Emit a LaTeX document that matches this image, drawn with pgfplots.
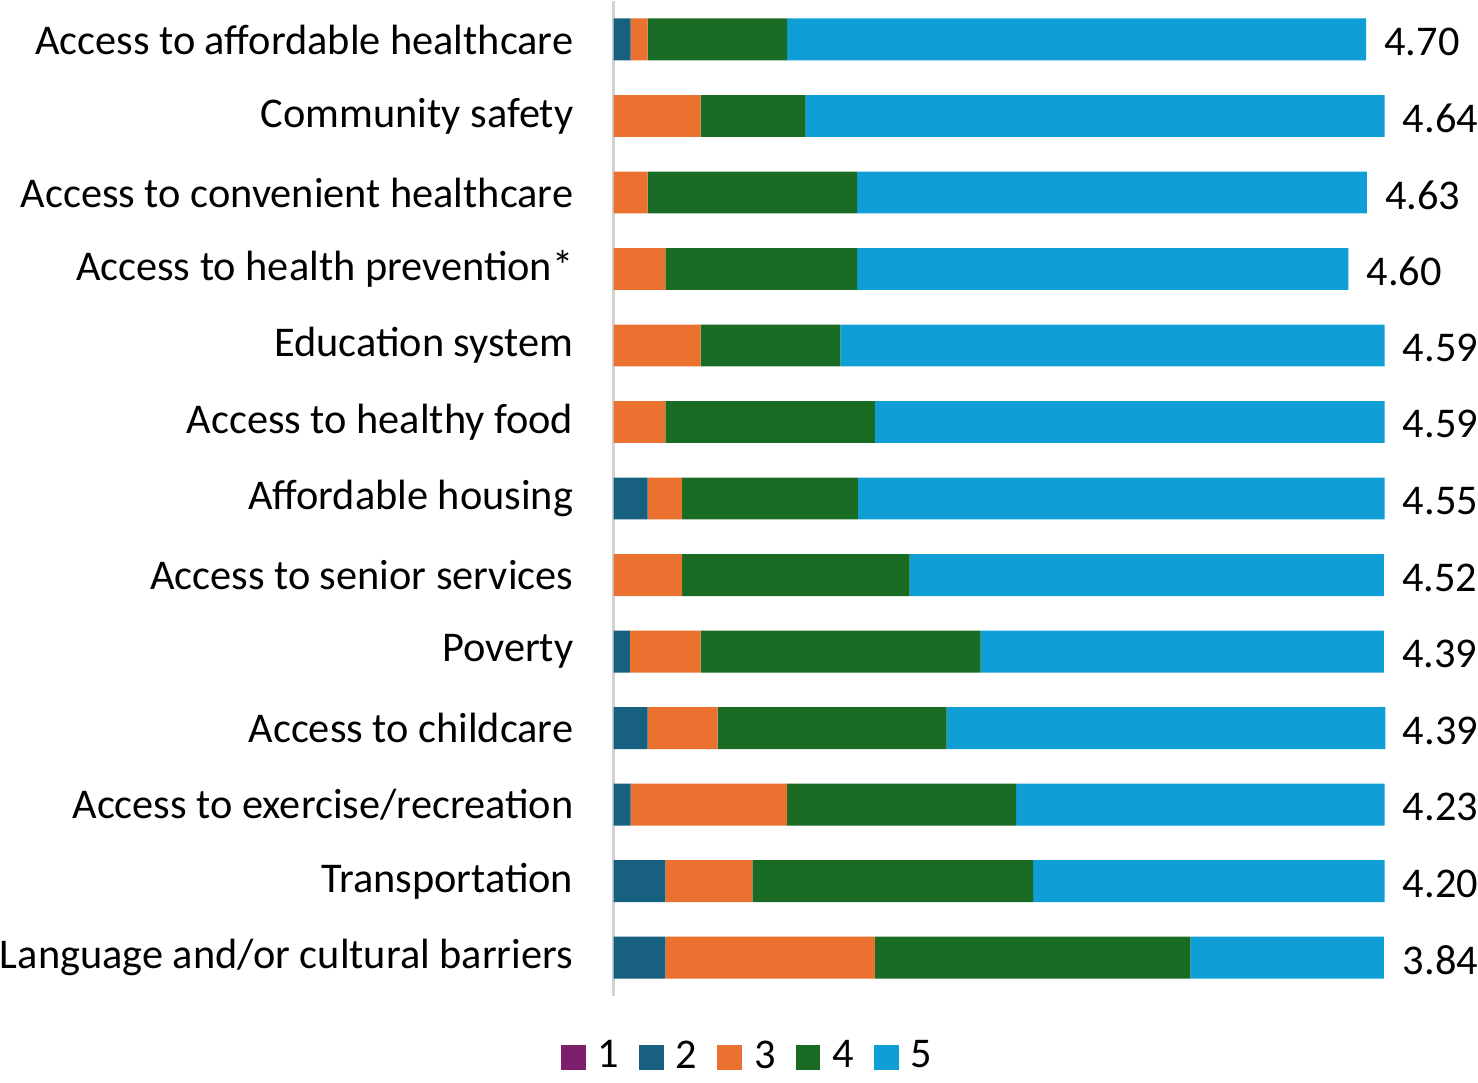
\documentclass[border=0pt]{standalone}
\usepackage{pgfplots}
\pgfplotsset{compat=1.18}
\usepackage{fontspec}
\setmainfont{Carlito}
\definecolor{c1}{HTML}{7B1F6B}
\definecolor{c2}{HTML}{17607F}
\definecolor{c3}{HTML}{EB7131}
\definecolor{c4}{HTML}{1A6B23}
\definecolor{c5}{HTML}{0F9ED5}
\newcommand{\bigfont}{\fontsize{21.2pt}{25pt}\selectfont}
\pgfplotsset{base/.style={
 scale only axis, width=386pt, height=498pt,
 xmin=0, xmax=100, ymin=0.5, ymax=13.5, y dir=reverse, clip=false}}
\begin{document}
\bigfont
\begin{tikzpicture}
\begin{axis}[base,
 xbar stacked, bar width=21pt,
 axis x line=none, axis y line*=left,
 y axis line style={draw=gray!35, line width=1.2pt},
 ytick={1,...,13},
 yticklabels={Access to affordable healthcare, Community safety, Access to convenient healthcare, Access to health prevention*, Education system, Access to healthy food, Affordable housing, Access to senior services, Poverty, Access to childcare, Access to exercise/recreation, Transportation, Language and/or cultural barriers},
 ytick style={draw=none}, major tick length=0pt,
 yticklabel style={font=\bigfont, inner sep=0pt, xshift=-20pt},
 legend columns=5,
 legend style={at={(0.175,-0.062)}, anchor=center, draw=none, font=\bigfont,
   /tikz/every odd column/.append style={column sep=4pt},
   /tikz/every even column/.append style={column sep=8pt}},
 legend image code/.code={\fill[#1] (0pt,-6.2pt) rectangle (12.4pt,6.2pt);},
]
\addplot[fill=c1, draw=none] coordinates {(0,1) (0,2) (0,3) (0,4) (0,5) (0,6) (0,7) (0,8) (0,9) (0,10) (0,11) (0,12) (0,13)};
\addplot[fill=c2, draw=none] coordinates {(2.2,1) (0,2) (0,3) (0,4) (0,5) (0,6) (4.4,7) (0,8) (2.1,9) (4.4,10) (2.2,11) (6.7,12) (6.7,13)};
\addplot[fill=c3, draw=none] coordinates {(2.2,1) (11.3,2) (4.4,3) (6.7,4) (11.3,5) (6.7,6) (4.5,7) (8.9,8) (9.2,9) (9.1,10) (20.3,11) (11.3,12) (27.2,13)};
\addplot[fill=c4, draw=none] coordinates {(18.1,1) (13.6,2) (27.2,3) (24.9,4) (18.1,5) (27.2,6) (22.8,7) (29.5,8) (36.3,9) (29.7,10) (29.7,11) (36.4,12) (40.9,13)};
\addplot[fill=c5, draw=none] coordinates {(75.1,1) (75.1,2) (66.1,3) (63.7,4) (70.6,5) (66.1,6) (68.3,7) (61.5,8) (52.3,9) (56.9,10) (47.8,11) (45.6,12) (25.1,13)};
\legend{1,2,3,4,5}
\end{axis}
\begin{axis}[base, axis lines=none, ticks=none]
\addplot[draw=none, nodes near coords, point meta=explicit symbolic,
  nodes near coords style={anchor=west, inner sep=0pt, xshift=9pt, yshift=-1.2pt, font=\bigfont, text=black}]
  coordinates {(97.6,1) [4.70] (100,2) [4.64] (97.7,3) [4.63] (95.3,4) [4.60] (100,5) [4.59] (100,6) [4.59] (100,7) [4.55] (99.9,8) [4.52] (99.9,9) [4.39] (100,10) [4.39] (100,11) [4.23] (100,12) [4.20] (100,13) [3.84]};
\end{axis}
\end{tikzpicture}
\end{document}
